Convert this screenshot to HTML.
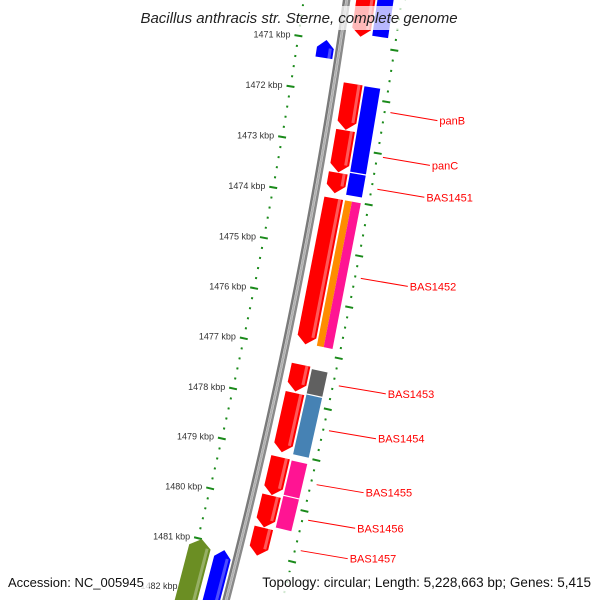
<!DOCTYPE html>
<html><head><meta charset="utf-8"><style>
html,body{margin:0;padding:0;background:#fff;width:600px;height:600px;overflow:hidden}
svg{display:block;font-family:"Liberation Sans",sans-serif;overflow:hidden}
</style></head><body>
<svg id="map" width="600" height="600" viewBox="0 0 600 600" xmlns="http://www.w3.org/2000/svg">
<g id="ticks"></g>
<g id="backbone"></g>
<g id="feats"></g>
<g id="labels"></g>
<rect x="135" y="6" width="330" height="24" fill="#fff" opacity="0.72"/>
<text x="299" y="23" text-anchor="middle" font-size="15" font-style="italic" fill="#222">Bacillus anthracis str. Sterne, complete genome</text>
<rect x="0" y="572" width="149" height="22" fill="#fff" opacity="0.8"/>
<rect x="258" y="572" width="342" height="22" fill="#fff" opacity="0.8"/>
<text x="8" y="587" font-size="13" fill="#111">Accession: NC_005945</text>
<text x="591" y="587" text-anchor="end" font-size="13.5" fill="#111">Topology: circular; Length: 5,228,663 bp; Genes: 5,415</text>
</svg>
<script>
// Data (kbp)
const cdsStarts = [1470.0, 1471.76, 1472.67, 1473.5, 1474.0, 1477.27, 1477.83, 1479.1, 1479.86, 1480.5];
const cdsEnds   = [1470.84, 1472.66, 1473.49, 1473.9, 1476.87, 1477.8, 1479.0, 1479.85, 1480.49, 1481.05];
const cogStarts = [1470.0, 1471.76, 1473.45, 1474.0, 1477.3, 1477.8, 1479.1, 1479.8];
const cogEnds   = [1470.8, 1473.45, 1473.9, 1476.85, 1477.8, 1479.0, 1479.8, 1480.45];
const cogColors = ["#0000ff","#0000ff","#0000ff","split","#606060","#4682b4","#ff1493","#ff1493"];
const revStarts = [1471.0, 1481.1, 1481.0];
const revEnds   = [1471.35, 1483.0, 1483.0];
const revColors = ["#0000ff","#0000ff","#6b8e23"];
const revTrack  = [0, 0, 1];
const labelNames = ["panB","panC","BAS1451","BAS1452","BAS1453","BAS1454","BAS1455","BAS1456","BAS1457"];
const labelCds   = [1, 2, 3, 4, 5, 6, 7, 8, 9];
const tickKbp = [1470,1471,1472,1473,1474,1475,1476,1477,1478,1479,1480,1481,1482,1483];

const CX=-5099, CY=-782;
function ang(k){return (8.615+(k-1471)*0.538)*Math.PI/180;}
function pt(r,k){const a=ang(k);return [CX+r*Math.cos(a),CY+r*Math.sin(a)];}
const NS="http://www.w3.org/2000/svg";
function mk(tag,parent,attrs){const e=document.createElementNS(NS,tag);for(const k in attrs)e.setAttribute(k,attrs[k]);parent.appendChild(e);return e;}
function P(a){return a.map(p=>p[0].toFixed(2)+","+p[1].toFixed(2)).join(" ");}
function kPerPx(r){return 1/(r*0.538*Math.PI/180);}

// ticks
const tg=document.getElementById('ticks');
for(let i=0;i<tickKbp.length-1;i++){
  for(let j=0;j<5;j++){
    const k=tickKbp[i]+j/5;
    [5459,5556].forEach(function(r){
      const major=j===0;
      const a=pt(r-(major?4:1),k), b=pt(r+(major?4:1),k);
      const l=mk('line',tg,{x1:a[0],y1:a[1],x2:b[0],y2:b[1],stroke:"#1a8a1a","stroke-width":2});
      
      
    });
    if(j===0){
      const p=pt(5451,k);
      const t=mk('text',tg,{x:p[0],y:p[1]+3,"text-anchor":"end","font-size":9,fill:"#333"});
      t.textContent=tickKbp[i]+" kbp";
      
      
    }
  }
}
// backbone
const bg=document.getElementById('backbone');
[[5499,"#7a7a7a"],[5501.5,"#b0b0b0"],[5504,"#8a8a8a"]].forEach(function(d,i){
  const pts=[];for(let k=1469;k<=1483.2;k+=0.25)pts.push(pt(d[0],k));
  const pl=mk('polyline',bg,{points:P(pts),fill:"none",stroke:d[1],"stroke-width":i===1?2:2.5});
  
  
});
const fg=document.getElementById('feats');
function arrowFwd(s,e,r1,r2,color,name){
  const h=8*kPerPx(r2), rm=(r1+r2)/2;
  const pts=[pt(r1,s),pt(r2,s),pt(r2,e-h),pt(rm,e),pt(r1,e-h)];
  const g=mk('polygon',fg,{points:P(pts),fill:color});
  
  
  const hl=mk('polygon',fg,{points:P([pt(r2-5,s),pt(r2-2,s),pt(r2-2,e-h),pt(r2-5,e-h)]),fill:"#fff",opacity:0.35});
  
  
}
function arrowRev(s,e,r1,r2,color,name){
  const h=8*kPerPx(r2), rm=(r1+r2)/2;
  const pts=[pt(r1,s+h),pt(rm,s),pt(r2,s+h),pt(r2,e),pt(r1,e)];
  const g=mk('polygon',fg,{points:P(pts),fill:color});
  
  
  const hl=mk('polygon',fg,{points:P([pt(r2-5,s+h),pt(r2-2,s+h),pt(r2-2,e),pt(r2-5,e)]),fill:"#fff",opacity:0.3});
  
  
}
function box(s,e,r1,r2,color,name){
  const g=mk('polygon',fg,{points:P([pt(r1,s),pt(r2,s),pt(r2,e),pt(r1,e)]),fill:color});
  
  
}
for(let i=0;i<cdsStarts.length;i++) arrowFwd(cdsStarts[i],cdsEnds[i],5511,5530,"#ff0000","cds-feature");
for(let i=0;i<cogStarts.length;i++){
  const gap=0.6*kPerPx(5540);
  if(cogColors[i]==="split"){
    box(cogStarts[i],cogEnds[i],5532,5539,"#ff8c00","cog-feature");
    box(cogStarts[i],cogEnds[i],5539,5548,"#ff1493","cog-feature");
  } else box(cogStarts[i]+gap,cogEnds[i]-gap,5532,5548,cogColors[i],"cog-feature");
}
for(let i=0;i<revStarts.length;i++){
  const r1=revTrack[i]===0?5479:5452, r2=revTrack[i]===0?5496:5474;
  arrowRev(revStarts[i],revEnds[i],r1,r2,revColors[i],"reverse-feature");
}
// labels
const lg=document.getElementById('labels');
for(let i=0;i<labelNames.length;i++){
  const c=labelCds[i], mid=(cdsStarts[c]+cdsEnds[c])/2;
  const a=pt(5562,mid);
  const l=mk('line',lg,{x1:a[0],y1:a[1]-1,x2:a[0]+47,y2:a[1]+7,stroke:"#ff0000","stroke-width":1});
  
  
  const t=mk('text',lg,{x:a[0]+49,y:a[1]+11,"font-size":11,fill:"#ff0000"});
  t.textContent=labelNames[i];
  
  
}
</script>
</body></html>
